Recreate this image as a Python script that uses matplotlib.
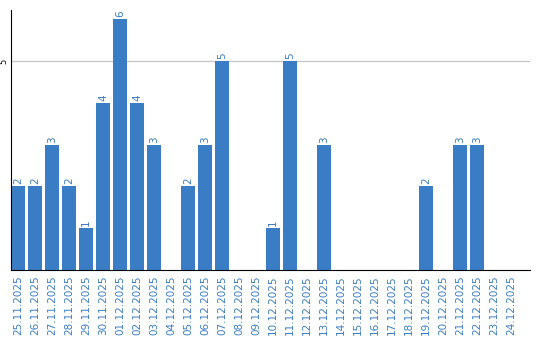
import matplotlib
matplotlib.use("Agg")
import matplotlib.pyplot as plt

dates = ["25.11.2025", "26.11.2025", "27.11.2025", "28.11.2025", "29.11.2025", "30.11.2025",
         "01.12.2025", "02.12.2025", "03.12.2025", "04.12.2025", "05.12.2025", "06.12.2025",
         "07.12.2025", "08.12.2025", "09.12.2025", "10.12.2025", "11.12.2025", "12.12.2025",
         "13.12.2025", "14.12.2025", "15.12.2025", "16.12.2025", "17.12.2025", "18.12.2025",
         "19.12.2025", "20.12.2025", "21.12.2025", "22.12.2025", "23.12.2025", "24.12.2025"]
values = [2, 2, 3, 2, 1, 4, 6, 4, 3, 0, 2, 3, 5, 0, 0, 1, 5, 0, 3, 0, 0, 0, 0, 0, 2, 0, 3, 3, 0, 0]

blue = "#3b7dc4"
fig = plt.figure(figsize=(5.4, 3.4), dpi=100)
ax = fig.add_axes([11/540, 70/340, 519/540, 260/340])
x = list(range(len(dates)))
bars = ax.bar(x, values, width=0.82, color=blue, zorder=2)
for xi, v in zip(x, values):
    if v > 0:
        ax.text(xi, v + 0.05, str(v), rotation=90, ha="center", va="bottom",
                color=blue, fontsize=7.5)
ax.set_xlim(-0.41, 30.1)
ax.set_ylim(0, 6.22)
ax.set_yticks([5])
ax.set_yticklabels(["5"], rotation=90, va="center", fontsize=6)
ax.yaxis.grid(True, color="#c8c8c8", linewidth=1, zorder=0)
ax.set_xticks(x)
ax.set_xticklabels(dates, rotation=90, color=blue, fontsize=7.5)
ax.tick_params(axis="both", length=0, pad=4)
ax.tick_params(axis="y", pad=2)
for s in ["top", "right"]:
    ax.spines[s].set_visible(False)
ax.spines["left"].set_color("black")
ax.spines["bottom"].set_color("black")
fig.savefig("out.png", dpi=100)
